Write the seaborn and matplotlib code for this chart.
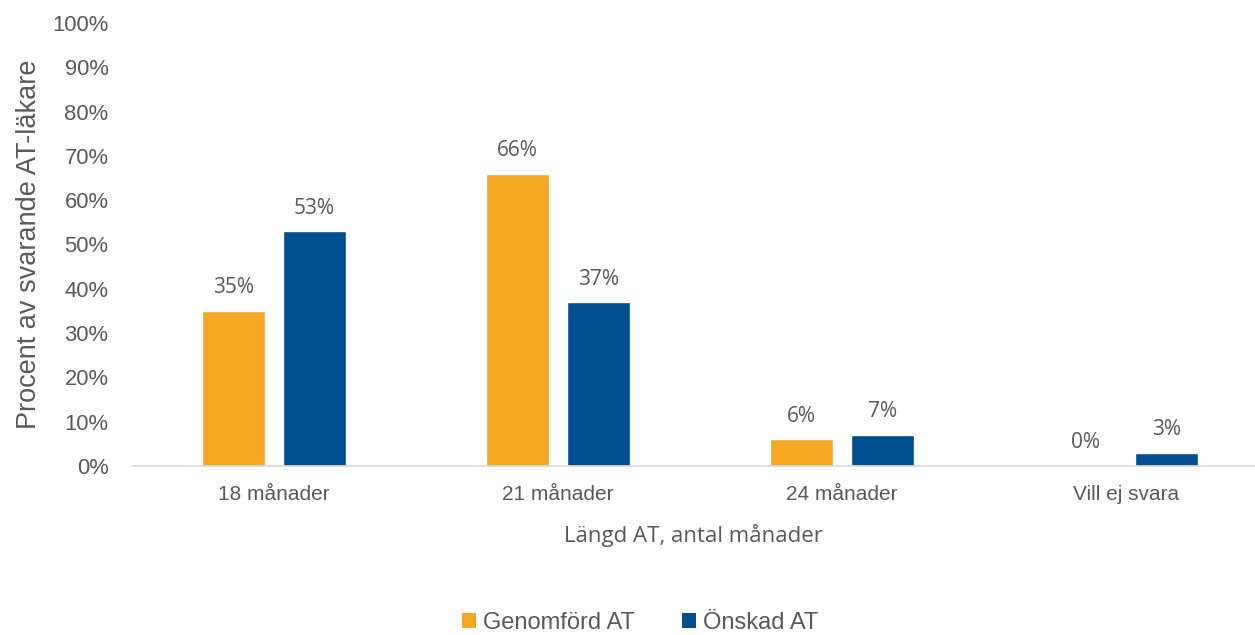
import matplotlib
matplotlib.use("Agg")
import matplotlib.pyplot as plt
import seaborn as sns
import pandas as pd
from matplotlib.patches import Patch

categories = ["18 månader", "21 månader", "24 månader", "Vill ej svara"]
series_names = ["Genomförd AT", "Önskad AT"]
genomford = [35, 66, 6, 0]
onskad = [53, 37, 7, 3]
yticks = [0, 10, 20, 30, 40, 50, 60, 70, 80, 90, 100]

colors = ["#F5A623", "#004F91"]
gray = "#595959"

df = pd.DataFrame({
    "cat": categories * 2,
    "serie": [series_names[0]] * 4 + [series_names[1]] * 4,
    "val": genomford + onskad,
})

sns.set_theme(style="white")
plt.rcParams["font.family"] = ["Liberation Sans", "DejaVu Sans"]

fig = plt.figure(figsize=(12.55, 6.35), dpi=100)
ax = fig.add_axes([132 / 1255, 1 - 466 / 635, 1 - 132 / 1255, (466 - 23) / 635])

sns.barplot(data=df, x="cat", y="val", hue="serie", palette=colors,
            width=0.567, gap=0.217, ax=ax, legend=False, saturation=1)

for cont in ax.containers:
    ax.bar_label(cont, labels=[f"{v:.0f}%" for v in cont.datavalues],
                 padding=9, color=gray, fontsize=15,
                 fontfamily=["Open Sans", "DejaVu Sans"])

ax.set_ylim(0, 100)
ax.set_xlim(-0.5, 3.454)
ax.set_yticks(yticks)
ax.set_yticklabels([f"{t}%" for t in yticks], fontsize=15.8, color=gray)
ax.tick_params(axis="y", length=0, pad=17)
ax.tick_params(axis="x", length=0, pad=14, labelsize=15, labelcolor=gray)

for s in ["left", "right", "top"]:
    ax.spines[s].set_visible(False)
ax.spines["bottom"].set_color("#D9D9D9")
ax.spines["bottom"].set_linewidth(1.2)

ax.set_ylabel("Procent av svarande AT-läkare", fontsize=19.5, color=gray, labelpad=7)
ax.set_xlabel("Längd AT, antal månader", fontsize=16, color=gray, labelpad=14,
              fontfamily=["Open Sans", "DejaVu Sans"])

handles = [Patch(facecolor=c, edgecolor="none") for c in colors]
fig.legend(handles, series_names, loc="center", bbox_to_anchor=(0.51, 0.019),
           ncol=2, frameon=False, fontsize=17, labelcolor=gray,
           handlelength=0.6, handleheight=0.6, handletextpad=0.3, columnspacing=2.0)

fig.savefig("out.png", dpi=100)
